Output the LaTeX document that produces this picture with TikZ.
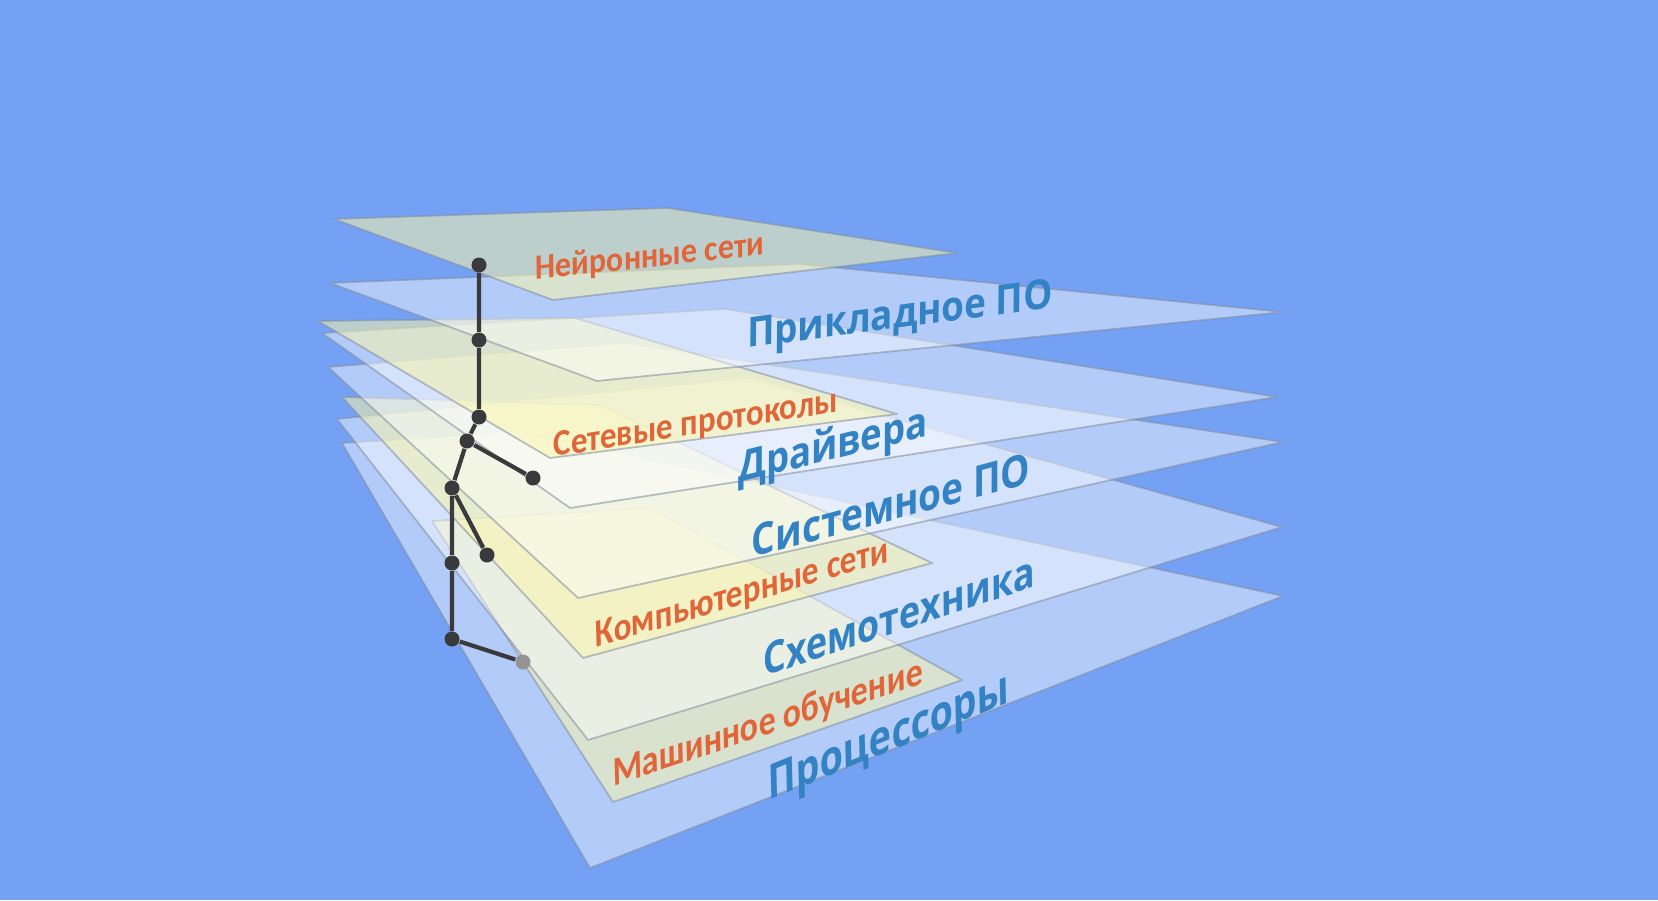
\documentclass[tikz,border=0pt]{standalone}
\usepackage{fontspec}
\usepackage{graphicx}
\newfontfamily\orangefont{Carlito}
\newfontfamily\bluefont{Open Sans}
\definecolor{bgBlue}{RGB}{116,161,244}
\definecolor{labelBlue}{RGB}{50,130,196}
\definecolor{labelOrange}{RGB}{224,102,58}
\definecolor{paleYellow}{RGB}{250,246,172}
\definecolor{edgeGray}{RGB}{130,140,160}
\definecolor{boneGray}{RGB}{58,58,60}
\tikzset{
  layerBase/.style={draw=edgeGray, draw opacity=0.55, line width=0.5pt, line join=round},
  % blue layers (hardware / software)
  layerBlue/.style={layerBase, fill=white, fill opacity=0.45},
  % yellow layers (networks / learning)
  layerYellow/.style={layerBase, fill=paleYellow, fill opacity=0.55},
  joint/.style={circle, fill=boneGray, inner sep=0pt, minimum size=1.5mm},
  jointBack/.style={joint, fill=boneGray!55!white},
  bone/.style={draw=boneGray, line width=1.2pt},
  hardLabel/.style={font=\bluefont\bfseries, text=labelBlue, inner sep=0pt},
  softLabel/.style={font=\orangefont\bfseries, text=labelOrange, inner sep=0pt}
}
% width of the label, then the text; stretched a bit upwards
\newcommand{\fitto}[2]{\scalebox{1}[1.1]{\resizebox{#1}{!}{#2}}}

\begin{document}
\begin{tikzpicture}[x=0.01cm, y=-0.01cm]
  % --- BACKGROUND ---
  \fill[bgBlue] (0,0) rectangle (1658,900);
  \useasboundingbox (0,0) rectangle (1658,900);

  % --- LAYERS (bottom to top) ---
  \draw[layerBlue]   (342,443) -- (520,432) -- (1283,596) -- (590,868) -- cycle;
  \draw[layerYellow] (432,521) -- (650,508) -- (962,680)  -- (613,802) -- cycle;
  \draw[layerBlue]   (337,419) -- (749,378) -- (1282,527) -- (588,740) -- cycle;
  \draw[layerYellow] (342,397) -- (600,405) -- (932,563)  -- (583,658) -- cycle;
  \draw[layerBlue]   (328,367) -- (625,343) -- (1283,442) -- (578,598) -- cycle;
  \draw[layerBlue]   (322,333) -- (725,309) -- (1277,397) -- (570,508) -- cycle;
  \draw[layerYellow] (318,321) -- (575,318) -- (897,414)  -- (550,458) -- cycle;
  \draw[layerBlue]   (330,283) -- (800,264) -- (1283,312) -- (597,381) -- cycle;
  \draw[layerYellow] (334,219) -- (668,208) -- (957,253)  -- (553,300) -- cycle;

  % --- LABELS ---
  \node[softLabel, rotate=6.3,  xslant=0.10] (lblNeuro)   at (650,258) {\fitto{2.30cm}{Нейронные сети}};
  \node[hardLabel, rotate=7.4,  xslant=0.14] (lblApp)     at (900,318) {\fitto{3.08cm}{Прикладное ПО}};
  \node[softLabel, rotate=9,    xslant=0.15] (lblProto)   at (696,425) {\fitto{2.88cm}{Сетевые протоколы}};
  \node[hardLabel, rotate=13.8, xslant=0.25] (lblDriver)  at (833,448) {\fitto{1.95cm}{Драйвера}};
  \node[hardLabel, rotate=15,   xslant=0.27] (lblSys)     at (891,505) {\fitto{2.88cm}{Системное ПО}};
  \node[softLabel, rotate=16.3, xslant=0.26] (lblNet)     at (742,595) {\fitto{3.05cm}{Компьютерные сети}};
  \node[hardLabel, rotate=18.4, xslant=0.32] (lblCircuit) at (899,616) {\fitto{2.86cm}{Схемотехника}};
  \node[softLabel, rotate=18.3, xslant=0.30] (lblML)      at (768,724) {\fitto{3.26cm}{Машинное обучение}};
  \node[hardLabel, rotate=22.3, xslant=0.38] (lblCPU)     at (889,740) {\fitto{2.60cm}{Процессоры}};

  % --- STICK FIGURE ---
  \foreach \name/\pos in {j1/{(479,265)}, j2/{(479,340)}, j3/{(479,417)}, j4/{(467,441)},
                          j5/{(533,478)}, j6/{(452,488)}, j7/{(487,555)}, j8/{(452,563)},
                          j9/{(452,639)}} {
    \node[joint] (\name) at \pos {};
  }
  \node[jointBack] (j10) at (523,662) {};

  \draw[bone] (j1) -- (j2) -- (j3) -- (j4) -- (j6) -- (j8) -- (j9) -- (j10);
  \draw[bone] (j4) -- (j5);
  \draw[bone] (j6) -- (j7);
\end{tikzpicture}
\end{document}
